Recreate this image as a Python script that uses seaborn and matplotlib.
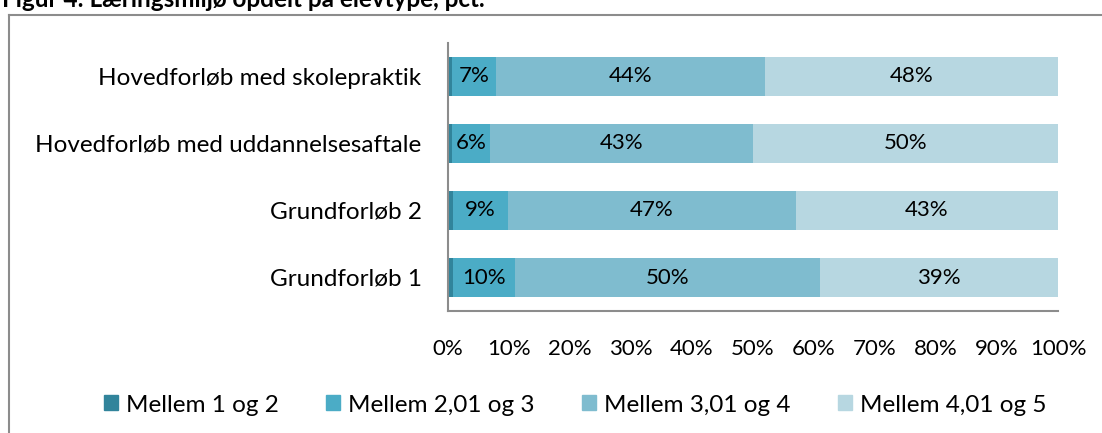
import numpy as np
import pandas as pd
import seaborn as sns
import matplotlib.pyplot as plt
from matplotlib.lines import Line2D

# Data

kategorier = ["Hovedforløb med skolepraktik", "Hovedforløb med uddannelsesaftale",
              "Grundforløb 2", "Grundforløb 1"]
serier = ["Mellem 1 og 2", "Mellem 2,01 og 3", "Mellem 3,01 og 4", "Mellem 4,01 og 5"]
mellem_1_2 = [0.7, 0.7, 0.8, 0.8]
mellem_2_3 = [7.2, 6.2, 9.0, 10.2]
mellem_3_4 = [44.1, 43.1, 47.2, 50.0]
mellem_4_5 = [48.0, 50.0, 43.0, 39.0]
farver = ["#31849b", "#4bacc6", "#7fbccf", "#b7d7e1"]

df = pd.DataFrame({"kategori": kategorier, serier[0]: mellem_1_2, serier[1]: mellem_2_3,
                   serier[2]: mellem_3_4, serier[3]: mellem_4_5})
cum = df[serier].cumsum(axis=1)

plt.rcParams["font.family"] = ["Lato", "DejaVu Sans"]
fs_num = 16
fs_txt = 17.5

fig = plt.figure(figsize=(11.02, 4.33), dpi=100)
ax = fig.add_axes([448 / 1102, 1 - 311 / 433, 610 / 1102, 268 / 433])

# Stablede søjler: tegn kumuleret fra største til mindste
for s, c in reversed(list(zip(serier, farver))):
    sns.barplot(data=cum.assign(kategori=kategorier), x=s, y="kategori", color=c,
                width=0.58, orient="h", ax=ax, saturation=1, edgecolor="none")

# Procent-etiketter
for i, k in enumerate(kategorier):
    for s in serier[1:]:
        v = df.loc[i, s]
        midt = cum.loc[i, s] - v / 2
        ax.text(midt, i, f"{round(v):.0f}%", ha="center", va="center", fontsize=fs_num, color="black")

ax.set_xlim(0, 100)
ax.set_xticks(range(0, 101, 10))
ax.set_xticklabels([f"{t}%" for t in range(0, 101, 10)])
ax.set_xlabel("")
ax.set_ylabel("")
ax.tick_params(axis="x", length=0, labelsize=fs_num)
ax.tick_params(axis="y", length=0, labelsize=fs_txt)
for t in ax.yaxis.get_major_ticks():
    t.set_pad(19)
for t in ax.xaxis.get_major_ticks():
    t.set_pad(20)
for sp in ["top", "right"]:
    ax.spines[sp].set_visible(False)
for sp in ["left", "bottom"]:
    ax.spines[sp].set_color("#8c8c8c")
    ax.spines[sp].set_linewidth(1.5)

handles = [plt.Rectangle((0, 0), 1, 1, color=c) for c in farver]
fig.legend(handles, serier, loc="center", bbox_to_anchor=(0.522, 1 - 405 / 433), ncol=4,
           frameon=False, fontsize=fs_txt, handlelength=0.58, handleheight=0.58,
           handletextpad=0.33, columnspacing=1.95)

# Ramme og titel
fig.add_artist(Line2D([9 / 1102, 1], [1 - 15 / 433] * 2, color="#8c8c8c", lw=1.5))
fig.add_artist(Line2D([9 / 1102] * 2, [0, 1 - 15 / 433], color="#8c8c8c", lw=1.5))
fig.text(2 / 1102, 1 - 7 / 433, "Figur 4: Læringsmiljø opdelt på elevtype, pct.",
         fontsize=17.5, fontweight="bold", va="baseline", ha="left")

fig.savefig("out.png", dpi=100)
